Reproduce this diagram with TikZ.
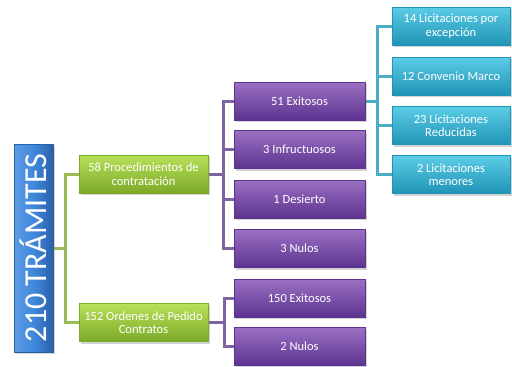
\documentclass[tikz,border=0pt]{standalone}
\usepackage{fontspec}
\setmainfont{Carlito}
\usetikzlibrary{shadows,backgrounds}
\definecolor{gtop}{HTML}{B8E05A}
\definecolor{gdark}{HTML}{7CAA28}
\definecolor{gline}{HTML}{9BBB59}
\definecolor{ptop}{HTML}{9A70C2}
\definecolor{pdark}{HTML}{5C3490}
\definecolor{pline}{HTML}{8064A2}
\definecolor{ctop}{HTML}{5CCDE6}
\definecolor{cdark}{HTML}{1F94B6}
\definecolor{cline}{HTML}{4BACC6}
\definecolor{bl}{HTML}{5C9BE6}
\definecolor{bm}{HTML}{4088DC}
\definecolor{bdark}{HTML}{2A60A8}
\tikzset{
  box/.style={rectangle, inner sep=0pt, text=white, align=center,
    font=\fontsize{12.5}{13.5}\selectfont,
    drop shadow={shadow xshift=1.5pt, shadow yshift=-2pt, opacity=0.35}},
  gbox/.style={box, minimum width=129pt, minimum height=38pt, draw=gdark, line width=0.6pt,
    top color=gtop, bottom color=gdark},
  pbox/.style={box, minimum width=131pt, minimum height=38pt, draw=pdark, line width=0.6pt,
    top color=ptop, bottom color=pdark},
  cbox/.style={box, minimum width=118pt, minimum height=38pt, draw=cdark, line width=0.6pt,
    top color=ctop, bottom color=cdark},
  bbox/.style={box, minimum width=39pt, minimum height=208pt, draw=bdark, line width=0.6pt,
    left color=bl, right color=bdark, middle color=bm},
  gcon/.style={draw=gline, line width=3pt},
  pcon/.style={draw=pline, line width=3pt},
  ccon/.style={draw=cline, line width=3pt},
}
\begin{document}
\begin{tikzpicture}[x=1pt,y=-1pt]
\useasboundingbox (0,0) rectangle (512,367);
\coordinate (gx) at (65,0);
\coordinate (px) at (223,0);
\coordinate (px2) at (224,0);
\coordinate (cx) at (377,0);

\node[bbox] (root) at (33.5,248) {};
\node[rotate=90, text=white, font=\fontsize{32}{34}\selectfont] (roottxt) at (root.center) {210 TRÁMITES};

\node[gbox] (g1) at (143.5,174) {58 Procedimientos de\\contratación};
\node[gbox] (g2) at (143.5,322.5) {152 Ordenes de Pedido\\Contratos};

\node[pbox] (p1) at (299.5,101) {51 Exitosos};
\node[pbox] (p2) at (299.5,149.5) {3 Infructuosos};
\node[pbox] (p3) at (299.5,199) {1 Desierto};
\node[pbox] (p4) at (299.5,248.5) {3 Nulos};
\node[pbox] (p5) at (299.5,298) {150 Exitosos};
\node[pbox] (p6) at (299.5,346.5) {2 Nulos};

\node[cbox] (c1) at (451,26) {14 Licitaciones por\\excepción};
\node[cbox] (c2) at (451,76) {12 Convenio Marco};
\node[cbox] (c3) at (451,125.5) {23 Licitaciones\\Reducidas};
\node[cbox] (c4) at (451,174.5) {2 Licitaciones\\menores};

\begin{scope}[on background layer]
\draw[gcon] (root.east) -- (root.east -| gx);
\draw[gcon] (g1.west) -| (g2.west -| gx) -- (g2.west);
\draw[pcon] (g1.east) -- (g1.east -| px);
\draw[pcon] (p1.west) -| (p4.west -| px) -- (p4.west);
\draw[pcon] (p2.west) -- (p2.west -| px);
\draw[pcon] (p3.west) -- (p3.west -| px);
\draw[pcon] (g2.east) -- (g2.east -| px2);
\draw[pcon] (p5.west) -| (p6.west -| px2) -- (p6.west);
\draw[ccon] (p1.east) -- (p1.east -| cx);
\draw[ccon] (c1.west) -| (c4.west -| cx) -- (c4.west);
\draw[ccon] (c2.west) -- (c2.west -| cx);
\draw[ccon] (c3.west) -- (c3.west -| cx);
\end{scope}
\end{tikzpicture}
\end{document}
